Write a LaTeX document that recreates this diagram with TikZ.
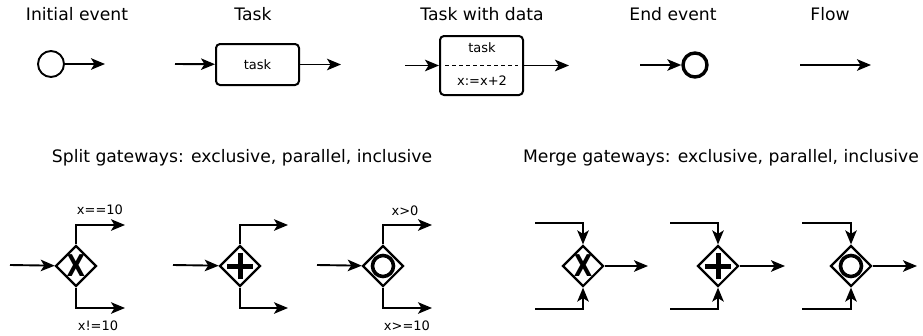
\documentclass[tikz,border=0pt]{standalone}
\usepackage{fontspec}
\setmainfont{DejaVu Sans}
\usetikzlibrary{arrows.meta, positioning, shapes.geometric}

\tikzset{
  flow/.style={-{Stealth[length=14pt,width=11.5pt,inset=3.5pt]}, line width=1.9pt},
  title/.style={font=\fontsize{17.2}{20}\selectfont},
  small/.style={font=\fontsize{13}{15}\selectfont},
  start/.style={circle, draw, line width=1.9pt, minimum size=26pt, inner sep=0pt},
  finish/.style={circle, draw, line width=3.4pt, minimum size=24pt, inner sep=0pt},
  taskbox/.style={rectangle, rounded corners=4pt, draw, line width=2pt, minimum width=83pt, minimum height=41pt, inner sep=0pt},
  gate/.style={diamond, draw, line width=2.2pt, minimum size=41pt, inner sep=0pt},
}

\begin{document}
\begin{tikzpicture}[x=1pt, y=-1pt]
   \useasboundingbox (0,0) rectangle (923,335);

   % Titles
      \node[title] (t-init)  at (77,14)  {Initial event};
      \node[title] (t-task)  at (253,14) {Task};
      \node[title] (t-data)  at (482,14) {Task with data};
      \node[title] (t-end)   at (673,14) {End event};
      \node[title] (t-flow)  at (830,14) {Flow};
      \node[title] (t-split) at (242,158) {Split gateways: exclusive, parallel, inclusive};
      \node[title] (t-merge) at (721,158) {Merge gateways: exclusive, parallel, inclusive};

   % Nodes
      \node[start]   (ie)   at (51,64)     {};
      \node[taskbox, small] (task) at (257.5,64.5) {task};
      \node[taskbox, minimum height=59pt] (td) at (481.5,65.5) {};
      \node[small]   (td-name) at (482,48) {task};
      \node[small]   (td-expr) at (482,81) {x:=x+2};
      \node[finish]  (ee)   at (695,65)    {};

      \node[gate] (s1) at (76,266)  {};
      \node[gate] (s2) at (240,266) {};
      \node[gate] (s3) at (383,266) {};
      \node[gate] (m1) at (583,266) {};
      \node[gate] (m2) at (718,266) {};
      \node[gate] (m3) at (851,266) {};

   % Gateway marks
      \foreach \g in {s1,m1}
         \node[font=\bfseries\fontsize{30}{30}\selectfont, xscale=0.8, inner sep=0pt] at (\g) {X};
      \foreach \g in {s2,m2}
         \draw[line width=5pt] ([xshift=-13pt]\g.center) -- ([xshift=13pt]\g.center)
                               ([yshift=-13pt]\g.center) -- ([yshift=13pt]\g.center);
      \foreach \g in {s3,m3}
         \draw[line width=3.6pt] (\g) circle (10.5pt);

   % Free ends
      \coordinate (ie-out)  at (105,64);
      \coordinate (task-in) at (175,64);
      \coordinate (task-out) at (341,64.5);
      \coordinate (td-in)   at (405,65.5);
      \coordinate (td-out)  at (569,65.5);
      \coordinate (ee-in)   at (640,65);
      \coordinate (fl-in)   at (800,65);
      \coordinate (fl-out)  at (871,65);

      \coordinate (s1-in)  at (10,265);
      \coordinate (s1-top) at (125,225);
      \coordinate (s1-bot) at (125,308);
      \coordinate (s2-in)  at (173,265);
      \coordinate (s2-top) at (288,225);
      \coordinate (s2-bot) at (288,308);
      \coordinate (s3-in)  at (317,265);
      \coordinate (s3-top) at (432,225);
      \coordinate (s3-bot) at (432,308);

      \coordinate (m1-top) at (535,223);
      \coordinate (m1-bot) at (535,309);
      \coordinate (m1-out) at (648,266);
      \coordinate (m2-top) at (670,223);
      \coordinate (m2-bot) at (670,309);
      \coordinate (m2-out) at (785,266);
      \coordinate (m3-top) at (802,223);
      \coordinate (m3-bot) at (802,309);
      \coordinate (m3-out) at (917,266);

   % Dashed divider
      \draw[line width=1.8pt, dash pattern=on 4pt off 3pt] ([xshift=6pt]td.west) -- ([xshift=-6pt]td.east);

   % Paths
      \draw[flow] (ie) -- (ie-out);
      \draw[flow] (task-in) -- (task);
      \draw[flow] (task) -- (task-out);
      \draw[flow] (td-in) -- (td);
      \draw[flow] (td) -- (td-out);
      \draw[flow] (ee-in) -- (ee);
      \draw[flow] (fl-in) -- (fl-out);

      \foreach \g in {s1,s2,s3} {
         \draw[flow] (\g-in) -- (\g);
         \draw[flow] (\g.north) |- (\g-top);
         \draw[flow] (\g.south) |- (\g-bot);
      }
      \foreach \g in {m1,m2,m3} {
         \draw[flow] (\g-top) -| (\g.north);
         \draw[flow] (\g-bot) -| (\g.south);
         \draw[flow] (\g) -- (\g-out);
      }

   % Conditions
      \node[small] (c1) at (100,210) {x==10};
      \node[small] (c2) at (98,326)  {x!=10};
      \node[small] (c3) at (405,211) {x>0};
      \node[small] (c4) at (407,326) {x>=10};
\end{tikzpicture}
\end{document}
